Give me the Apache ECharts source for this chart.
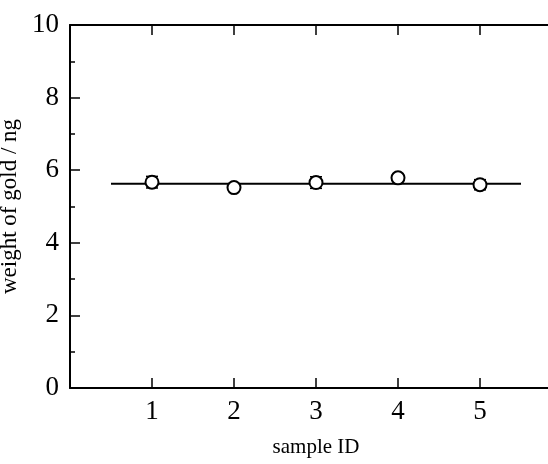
<!DOCTYPE html>
<html>
<head>
<meta charset="utf-8">
<script src="https://cdn.jsdelivr.net/npm/echarts@6/dist/echarts.min.js"></script>
<style>
html,body{margin:0;padding:0;background:#fff;}
#chart{width:548px;height:464px;}
</style>
</head>
<body>
<div id="chart"></div>
<script>
var sampleIds = [1, 2, 3, 4, 5];
var goldWeight = [5.67, 5.52, 5.66, 5.79, 5.60];
var goldError = [0.16, 0.10, 0.16, 0.10, 0.14];
var meanLineX = [0.5, 5.5];
var meanValue = 5.63;
var xTickLabels = ['1', '2', '3', '4', '5'];

var font = 'Liberation Serif, Times New Roman, serif';
var chart = echarts.init(document.getElementById('chart'), null, {renderer: 'canvas'});

var points = sampleIds.map(function (id, i) { return [id, goldWeight[i]]; });
var errs = sampleIds.map(function (id, i) { return [id, goldWeight[i] - goldError[i], goldWeight[i] + goldError[i]]; });
var meanLine = meanLineX.map(function (x) { return [x, meanValue]; });

function axisLine() { return {show: true, onZero: false, lineStyle: {color: '#000', width: 2}}; }
function tick() { return {show: true, inside: true, length: 10, lineStyle: {color: '#000', width: 1.5}}; }
function minor() { return {show: true, splitNumber: 2, length: 5, lineStyle: {color: '#000', width: 1.5}}; }

var option = {
  backgroundColor: '#fff',
  animation: false,
  grid: {left: 70, top: 25, width: 492, height: 363, containLabel: false, outerBoundsMode: 'none'},
  xAxis: [{
    type: 'value', min: 0, max: 6, interval: 1, position: 'bottom',
    axisLine: axisLine(), axisTick: tick(),
    axisLabel: {color: '#000', fontFamily: font, fontSize: 27, margin: 10,
      formatter: function (v) { return (v >= 1 && v <= 5) ? xTickLabels[v - 1] : ''; }},
    splitLine: {show: false},
    name: 'sample ID', nameLocation: 'middle', nameGap: 49,
    nameTextStyle: {color: '#000', fontFamily: font, fontSize: 21}
  }, {
    type: 'value', min: 0, max: 6, interval: 1, position: 'top',
    axisLine: axisLine(), axisTick: tick(),
    axisLabel: {show: false}, splitLine: {show: false}
  }],
  yAxis: [{
    type: 'value', min: 0, max: 10, interval: 2, position: 'left',
    axisLine: axisLine(), axisTick: tick(), minorTick: minor(),
    axisLabel: {color: '#000', fontFamily: font, fontSize: 27, margin: 11},
    splitLine: {show: false}, minorSplitLine: {show: false},
    name: 'weight of gold / ng', nameLocation: 'middle', nameGap: 37,
    nameTextStyle: {color: '#000', fontFamily: font, fontSize: 23}
  }, {
    type: 'value', min: 0, max: 10, interval: 2, position: 'right',
    axisLine: axisLine(), axisTick: tick(), minorTick: minor(),
    axisLabel: {show: false}, splitLine: {show: false}, minorSplitLine: {show: false}
  }],
  series: [{
    type: 'line', data: meanLine, symbol: 'none',
    lineStyle: {color: '#000', width: 2}, z: 2
  }, {
    type: 'custom', data: errs, z: 3,
    renderItem: function (params, api) {
      var x = api.value(0);
      var lo = api.coord([x, api.value(1)]);
      var hi = api.coord([x, api.value(2)]);
      var w = 6;
      var st = {stroke: '#000', lineWidth: 1.5};
      return {type: 'group', children: [
        {type: 'line', shape: {x1: lo[0], y1: lo[1], x2: hi[0], y2: hi[1]}, style: st},
        {type: 'line', shape: {x1: lo[0] - w, y1: lo[1], x2: lo[0] + w, y2: lo[1]}, style: st},
        {type: 'line', shape: {x1: hi[0] - w, y1: hi[1], x2: hi[0] + w, y2: hi[1]}, style: st}
      ]};
    }
  }, {
    type: 'scatter', data: points, symbol: 'circle', symbolSize: 13, z: 4,
    itemStyle: {color: '#fff', borderColor: '#000', borderWidth: 2, opacity: 1}
  }]
};
chart.setOption(option);
</script>
</body>
</html>
